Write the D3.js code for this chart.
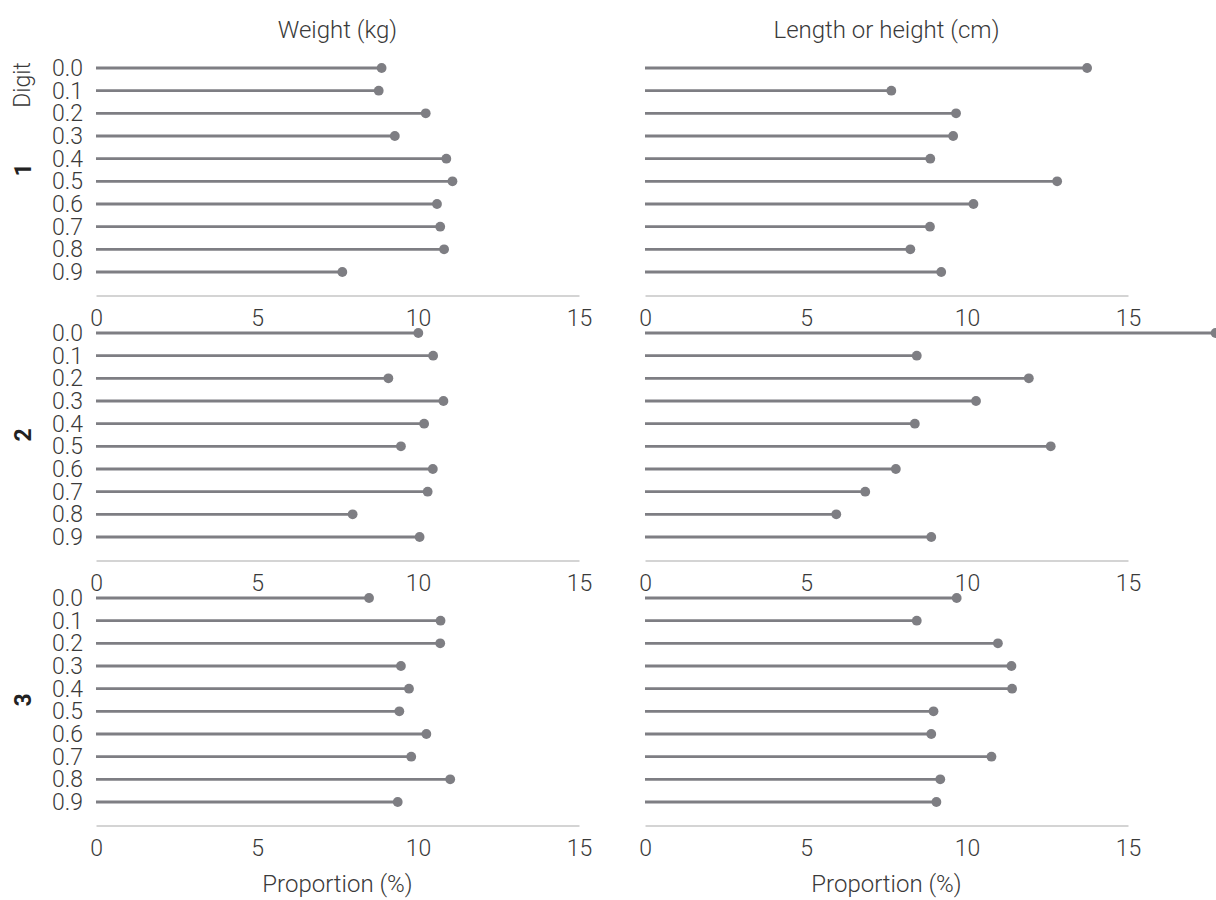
<!DOCTYPE html>
<html>
<head>
<meta charset="utf-8">
<script src="https://cdn.jsdelivr.net/npm/d3@7"></script>
<style>
  html, body { margin: 0; padding: 0; background: #fff; overflow: hidden; }
  svg { display: block; font-family: "Roboto Light", Roboto, "Open Sans", sans-serif; }
  .lt { font-family: "Roboto Light", Roboto, sans-serif; font-weight: 300; }
  .bd { font-family: Roboto, sans-serif; font-weight: 700; }
</style>
</head>
<body>
<svg id="chart" width="1216" height="900"></svg>
<script>
const digits = ["0.0","0.1","0.2","0.3","0.4","0.5","0.6","0.7","0.8","0.9"];
const measures = ["Weight (kg)", "Length or height (cm)"];
const positions = ["1", "2", "3"];
const xTicks = [0, 5, 10, 15];

const weight1 = [8.87, 8.78, 10.24, 9.28, 10.88, 11.07, 10.59, 10.69, 10.81, 7.65];
const weight2 = [10.01, 10.47, 9.08, 10.79, 10.19, 9.47, 10.46, 10.30, 7.97, 10.05];
const weight3 = [8.48, 10.70, 10.69, 9.47, 9.72, 9.42, 10.26, 9.79, 11.00, 9.37];
const length1 = [13.73, 7.65, 9.66, 9.57, 8.86, 12.80, 10.20, 8.85, 8.24, 9.20];
const length2 = [17.72, 8.44, 11.92, 10.28, 8.38, 12.60, 7.79, 6.84, 5.94, 8.89];
const length3 = [9.68, 8.44, 10.96, 11.38, 11.40, 8.96, 8.89, 10.76, 9.17, 9.05];

const panels = [
  { row: 0, col: 0, values: weight1 }, { row: 0, col: 1, values: length1 },
  { row: 1, col: 0, values: weight2 }, { row: 1, col: 1, values: length2 },
  { row: 2, col: 0, values: weight3 }, { row: 2, col: 1, values: length3 }
];

const svg = d3.select("#chart");
const textColor = "#3a3a3a";
const markColor = "#7e7e83";
const axisColor = "#c6c6c6";
const fs = "23px";
const fsTitle = "24px";

const colLeft = [96, 645];
const panelWidth = 483;
const rowTop = 68;
const rowStep = 265;
const rowsSpan = 204;
const axisOffset = 227.5;

const x = d3.scaleLinear().domain([0, 15]).range([0, panelWidth]);
const y = d3.scalePoint().domain(digits).range([0, rowsSpan]);

panels.forEach(p => {
  const g = svg.append("g")
    .attr("transform", `translate(${colLeft[p.col]},${rowTop + p.row * rowStep})`);

  g.selectAll("line.stem").data(p.values).join("line")
    .attr("class", "stem")
    .attr("x1", x(0)).attr("x2", d => x(d))
    .attr("y1", (d, i) => y(digits[i])).attr("y2", (d, i) => y(digits[i]))
    .attr("stroke", markColor).attr("stroke-width", 2.8);

  g.selectAll("circle.dot").data(p.values).join("circle")
    .attr("class", "dot")
    .attr("cx", d => x(d)).attr("cy", (d, i) => y(digits[i]))
    .attr("r", 4.9).attr("fill", markColor);

  const xa = g.append("g").attr("transform", `translate(0,${axisOffset})`)
    .call(d3.axisBottom(x).tickValues(xTicks).tickSize(0).tickPadding(14).tickFormat(d3.format("d")));
  xa.attr("font-family", null).attr("font-size", null);
  xa.select(".domain").attr("stroke", axisColor).attr("stroke-width", 1.5);
  xa.selectAll("text").attr("class", "lt").attr("fill", textColor).style("font-size", fs);

  if (p.col === 0) {
    const ya = g.append("g")
      .call(d3.axisLeft(y).tickSize(0).tickPadding(13));
    ya.attr("font-family", null).attr("font-size", null);
    ya.select(".domain").remove();
    ya.selectAll("text").attr("class", "lt").attr("fill", textColor).style("font-size", fs);

    svg.append("text")
      .attr("class", "bd")
      .attr("transform", `translate(31,${rowTop + p.row * rowStep + rowsSpan / 2}) rotate(-90)`)
      .attr("text-anchor", "middle")
      .attr("fill", "#222")
      .style("font-size", fs)
      .text(positions[p.row]);
  }
});

measures.forEach((m, i) => {
  svg.append("text")
    .attr("class", "lt")
    .attr("x", colLeft[i] + panelWidth / 2).attr("y", 38)
    .attr("text-anchor", "middle").attr("fill", textColor)
    .style("font-size", fsTitle)
    .text(m);
  svg.append("text")
    .attr("class", "lt")
    .attr("x", colLeft[i] + panelWidth / 2).attr("y", 892)
    .attr("text-anchor", "middle").attr("fill", textColor)
    .style("font-size", fsTitle)
    .text("Proportion (%)");
});

svg.append("text")
  .attr("class", "lt")
  .attr("transform", `translate(30,85) rotate(-90)`)
  .attr("text-anchor", "middle").attr("fill", textColor)
  .style("font-size", fs)
  .text("Digit");
</script>
</body>
</html>
